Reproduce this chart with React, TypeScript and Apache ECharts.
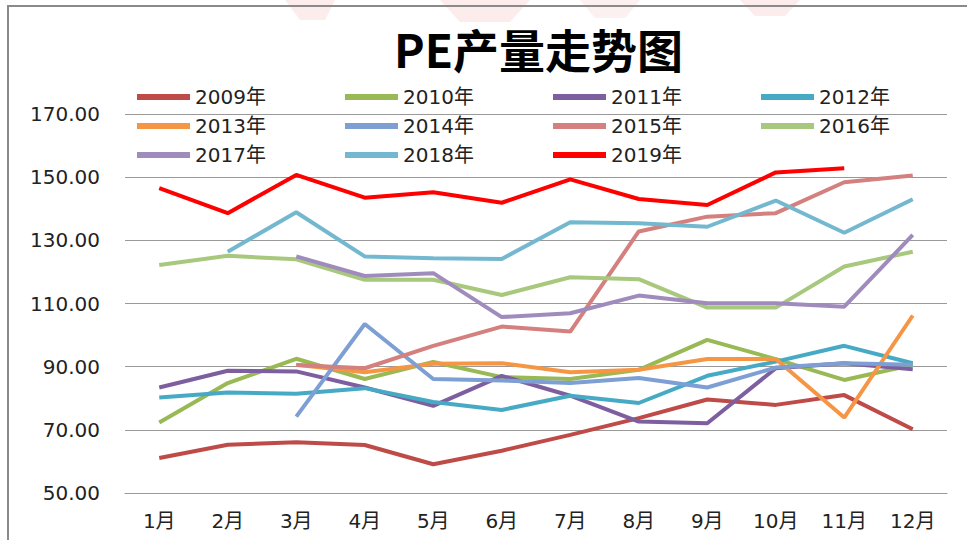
import React, { useEffect, useRef } from "react";
import * as echarts from "echarts";

const months = ["1月", "2月", "3月", "4月", "5月", "6月", "7月", "8月", "9月", "10月", "11月", "12月"];
const years = ["2009年", "2010年", "2011年", "2012年", "2013年", "2014年", "2015年", "2016年", "2017年", "2018年", "2019年"];
const colors = ["#BE4B48", "#98B954", "#7D5FA0", "#46AAC5", "#F59645", "#7D9FD3", "#D3807E", "#A8C87D", "#A08CBC", "#74B8D0", "#FF0000"];

const d2009 = [61.1, 65.3, 66.1, 65.2, 59.1, 63.4, 68.4, 73.7, 79.6, 77.9, 81.0, 70.2];
const d2010 = [72.3, 84.8, 92.5, 86.1, 91.5, 86.7, 86.1, 89.0, 98.5, 92.4, 85.8, 90.6];
const d2011 = [83.4, 88.7, 88.5, 83.4, 77.6, 87.1, 80.8, 72.6, 72.1, 89.5, 91.1, 89.2];
const d2012 = [80.2, 81.8, 81.4, 83.2, 78.8, 76.3, 80.8, 78.5, 87.1, 91.6, 96.6, 91.1];
const d2013 = [null, null, 90.6, 88.2, 90.9, 91.1, 88.2, 89.0, 92.4, 92.4, 73.9, 106.2];
const d2014 = [null, null, 74.2, 103.5, 86.1, 85.6, 84.8, 86.4, 83.4, 89.7, 91.1, 90.6];
const d2015 = [null, null, 90.5, 89.5, 96.6, 102.7, 101.1, 132.8, 137.5, 138.6, 148.4, 150.5];
const d2016 = [122.2, 125.1, 124.0, 117.5, 117.5, 112.7, 118.3, 117.7, 108.7, 108.7, 121.7, 126.4];
const d2017 = [null, null, 124.9, 118.7, 119.6, 105.7, 106.9, 112.5, 110.1, 110.1, 109.0, 131.7];
const d2018 = [null, 126.4, 138.9, 124.9, 124.3, 124.1, 135.7, 135.4, 134.3, 142.6, 132.4, 143.0];
const d2019 = [146.5, 138.6, 150.7, 143.5, 145.2, 141.9, 149.3, 143.1, 141.2, 151.5, 152.8, null];

const allData = [d2009, d2010, d2011, d2012, d2013, d2014, d2015, d2016, d2017, d2018, d2019];

const FONT = "'DejaVu Sans', 'Noto Sans CJK SC', sans-serif";

export default function App() {
  const ref = useRef<HTMLDivElement>(null);
  useEffect(() => {
    if (!ref.current) return;
    const chart = echarts.init(ref.current, null, { renderer: "svg" });
    const legends = years.map((name, i) => ({
      data: [name],
      left: 137 + (i % 4) * 208,
      top: 87 + Math.floor(i / 4) * 29,
      padding: 0,
      icon: "rect",
      itemWidth: 53,
      itemHeight: 6,
      itemGap: 0,
      selectedMode: false,
      textStyle: { fontSize: 20, color: "#222", fontFamily: FONT, lineHeight: 20 },
    }));
    chart.setOption({
      animation: false,
      backgroundColor: "#fff",
      title: {
        text: "PE产量走势图",
        left: 389,
        top: 20,
        textStyle: { fontSize: 46, fontWeight: "bold", color: "#000", fontFamily: "'Noto Sans CJK SC', sans-serif" },
      },
      graphic: [
        { type: "polygon", shape: { points: [[285, 0], [335, 0], [325, 20], [300, 20]] }, style: { fill: "#fdecec" }, z: -1 },
        { type: "polygon", shape: { points: [[440, 0], [530, 0], [510, 22], [460, 22]] }, style: { fill: "#fdecec" }, z: -1 },
        { type: "polygon", shape: { points: [[580, 0], [640, 0], [625, 18], [595, 18]] }, style: { fill: "#fdf0f0" }, z: -1 },
        { type: "polygon", shape: { points: [[740, 0], [800, 0], [785, 16], [755, 16]] }, style: { fill: "#fdecec" }, z: -1 },
        {
          type: "rect",
          shape: { x: 8, y: 6, width: 1000, height: 600 },
          style: { fill: "none", stroke: "#8a8a8a", lineWidth: 2 },
          z: 10,
        },
      ],
      legend: legends,
      grid: { left: 125, right: 20, top: 114, bottom: 47 },
      xAxis: {
        type: "category",
        data: months,
        boundaryGap: true,
        axisLine: { show: true, lineStyle: { color: "#999", width: 1 } },
        axisTick: { show: false },
        axisLabel: { fontSize: 20, color: "#222", fontFamily: FONT, margin: 18 },
      },
      yAxis: {
        type: "value",
        min: 50,
        max: 170,
        interval: 20,
        axisLine: { show: false },
        axisTick: { show: false },
        splitLine: { show: true, lineStyle: { color: "#999", width: 1 } },
        axisLabel: {
          fontSize: 20,
          color: "#222",
          fontFamily: FONT,
          margin: 25,
          formatter: (v: number) => v.toFixed(2),
        },
      },
      series: years.map((name, i) => ({
        name,
        type: "line",
        data: allData[i],
        color: colors[i],
        symbol: "none",
        connectNulls: false,
        lineStyle: { width: 4, color: colors[i] },
      })),
    });
    return () => chart.dispose();
  }, []);
  return <div ref={ref} style={{ position: "fixed", left: 0, top: 0, width: 967, height: 540 }} />;
}
